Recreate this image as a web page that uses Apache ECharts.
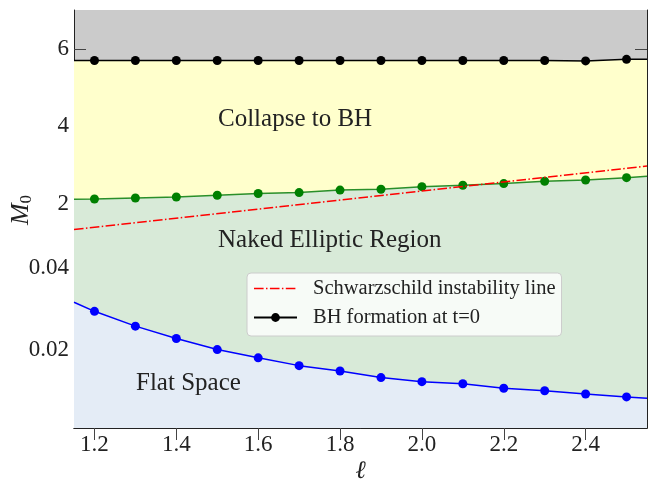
<!DOCTYPE html>
<html><head><meta charset="utf-8">
<script src="https://cdn.jsdelivr.net/npm/echarts@6/dist/echarts.min.js"></script>
<style>html,body{margin:0;padding:0;background:#fff}#c{width:652px;height:479px}</style>
</head><body><div id="c"></div>
<script>
// ---- data ----
const ells = [1.2,1.3,1.4,1.5,1.6,1.7,1.8,1.9,2.0,2.1,2.2,2.3,2.4,2.5];
const edgeL = [1.15, 2.55];
const bhM = [5.70,5.70,5.70,5.70,5.70,5.70,5.70,5.70,5.70,5.70,5.70,5.70,5.69,5.73];
const bhEdgeM = [5.70, 5.73];
const nakedM = [2.13,2.156,2.18,2.226,2.27,2.295,2.358,2.38,2.448,2.484,2.527,2.587,2.62,2.68];
const nakedEdgeM = [2.12, 2.716];
const flatM = [0.0294,0.0258,0.0228,0.0201,0.0181,0.0162,0.0149,0.0133,0.0123,0.0118,0.0107,0.0101,0.0093,0.0086];
const flatEdgeM = [0.0316, 0.0083];
const schwL = [1.15, 2.55];
const schwM = [1.34, 2.98];
const xTicks = [1.2,1.4,1.6,1.8,2.0,2.2,2.4];
const yTicks = [0.02,0.04,2,4,6];
const yTickLabels = ['0.02','0.04','2','4','6'];

// piecewise (broken) M0 scale: lower part 0..0.05, upper part 1..7
function toD(m){ return m < 1 ? -4.3 + 4115*m : 224 + (m-2)*38.78; }
const yTickD = yTicks.map(toD);
function yLabel(v){
  let bi=0, bd=1e9;
  yTickD.forEach((d,i)=>{ if(Math.abs(d-v)<bd){bd=Math.abs(d-v);bi=i;} });
  return yTickLabels[bi];
}
function build(vals, edges){
  const out=[{value:[edgeL[0], toD(edges[0])], symbol:'none'}];
  ells.forEach((l,i)=>out.push([l, toD(vals[i])]));
  out.push({value:[edgeL[1], toD(edges[1])], symbol:'none'});
  return out;
}
// dash-dot legend icon (43x11 box, corner dots fix the bounding box)
const dashDotIcon = 'path://M0,0L0.01,0L0.01,0.01Z M43,11L42.99,11L42.99,10.99Z ' +
  'M0,4.75H9.6V6.25H0Z M12,4.75H13.5V6.25H12Z M15.9,4.75H25.5V6.25H15.9Z M27.9,4.75H29.4V6.25H27.9Z M31.8,4.75H41.4V6.25H31.8Z';
const FONT='Liberation Serif';
const chart = echarts.init(document.getElementById('c'));
const tickStyle={inside:true,length:12,lineStyle:{color:'#444',width:1}};
chart.setOption({
  animation:false,
  grid:{left:74,top:10,right:5,bottom:51,show:true,backgroundColor:'#cbcbcb',borderWidth:0,
        outerBoundsMode:'none',containLabel:false},
  xAxis:[{
    type:'value',min:1.15,max:2.55,position:'bottom',
    axisLine:{lineStyle:{color:'#222',width:1}},
    axisTick:Object.assign({customValues:xTicks},tickStyle),
    axisLabel:{customValues:xTicks,formatter:v=>v.toFixed(1),fontFamily:FONT,fontSize:23,color:'#222',margin:5},
    splitLine:{show:false},
    name:'ℓ',nameLocation:'middle',nameGap:31,nameMoveOverlap:false,
    nameTextStyle:{fontFamily:FONT,fontStyle:'italic',fontSize:25,color:'#222'}
  },{
    type:'value',min:1.15,max:2.55,position:'top',
    axisLine:{lineStyle:{color:'#222',width:1}},
    axisTick:Object.assign({customValues:xTicks},tickStyle),
    axisLabel:{show:false},splitLine:{show:false}
  }],
  yAxis:[{
    type:'value',min:0,max:418,position:'left',
    axisLine:{show:true,lineStyle:{color:'#222',width:1}},
    axisTick:Object.assign({customValues:yTickD},tickStyle),
    axisLabel:{customValues:yTickD,formatter:yLabel,fontFamily:FONT,fontSize:23,color:'#222',margin:5},
    splitLine:{show:false},
    name:'{m|M}{s|0}',nameLocation:'middle',nameGap:39,nameRotate:90,nameMoveOverlap:false,
    nameTextStyle:{padding:[0,0,0,18],rich:{
      m:{fontFamily:FONT,fontStyle:'italic',fontSize:26,color:'#222'},
      s:{fontFamily:FONT,fontSize:17,color:'#222',padding:[10,0,0,0]}
    }}
  },{
    type:'value',min:0,max:418,position:'right',
    axisLine:{show:true,lineStyle:{color:'#222',width:1}},
    axisTick:Object.assign({customValues:yTickD},tickStyle),
    axisLabel:{show:false},splitLine:{show:false}
  }],
  legend:{
    data:[{name:'Schwarzschild instability line',icon:dashDotIcon},'BH formation at t=0'],
    orient:'vertical',left:247,top:273,
    itemWidth:43,itemHeight:11,itemGap:8,
    padding:[5,6,8,6],
    backgroundColor:'rgba(255,255,255,0.8)',borderColor:'#cccccc',borderWidth:1,borderRadius:4,
    textStyle:{fontFamily:FONT,fontSize:20.5,color:'#222',padding:[0,0,0,11]}
  },
  graphic:[
    {type:'text',z:100,left:218,top:107,style:{text:'Collapse to BH',font:'25px "Liberation Serif"',fill:'#222'}},
    {type:'text',z:100,left:218,top:228,style:{text:'Naked Elliptic Region',font:'25px "Liberation Serif"',fill:'#222'}},
    {type:'text',z:100,left:136,top:371,style:{text:'Flat Space',font:'25px "Liberation Serif"',fill:'#222'}}
  ],
  series:[
    {name:'BH formation at t=0',type:'line',data:build(bhM,bhEdgeM),
      symbol:'circle',symbolSize:9,itemStyle:{color:'#000'},
      lineStyle:{color:'#000',width:1.5},areaStyle:{color:'#ffffcc',opacity:1,origin:'start'},z:2},
    {name:'Naked boundary',type:'line',data:build(nakedM,nakedEdgeM),
      symbol:'circle',symbolSize:9,itemStyle:{color:'#008000'},
      lineStyle:{color:'#2a8f2a',width:1.5},areaStyle:{color:'#d8ead8',opacity:1,origin:'start'},z:3},
    {name:'Flat boundary',type:'line',data:build(flatM,flatEdgeM),
      symbol:'circle',symbolSize:9,itemStyle:{color:'#0000ff'},
      lineStyle:{color:'#0000ff',width:1.5},areaStyle:{color:'#e4ecf6',opacity:1,origin:'start'},z:4},
    {name:'Schwarzschild instability line',type:'line',data:schwL.map((l,i)=>[l,toD(schwM[i])]),
      symbol:'none',itemStyle:{color:'#ff0000'},
      lineStyle:{color:'#ff0000',width:1.5,type:[9.6,2.4,1.5,2.4]},z:5}
  ]
});
</script></body></html>
